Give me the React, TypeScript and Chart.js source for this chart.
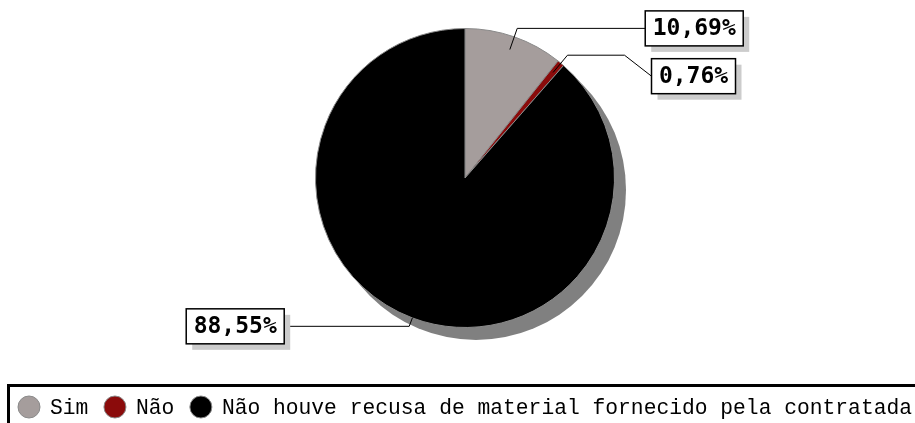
import React, { useEffect, useRef } from "react";
import { Chart, registerables } from "chart.js";

Chart.register(...registerables);

const categories: string[] = ["Sim", "Não", "Não houve recusa de material fornecido pela contratada"];
const values: number[] = [10.69, 0.76, 88.55];
const valueLabels: string[] = ["10,69%", "0,76%", "88,55%"];
const colors: string[] = ["#a59d9c", "#8b0b0b", "#000000"];

// leader-line styling per slice: anchor radius ratio, elbow ratio, horizontal run, extra drop
const leaderAnchor: number[] = [0.91, 0.92, 1.0];
const leaderElbow: number[] = [1.06, 1.07, 1.06];
const leaderRun: number[] = [128, 57, -125];
const leaderDrop: number[] = [0, 21, 0];

const LABEL_FONT = 'bold 23px "DejaVu Sans Mono", monospace';
const LEGEND_FONT = '21.3px "Liberation Mono", "Courier New", monospace';

const shadowPlugin = {
  id: "pieShadow",
  beforeDatasetsDraw(chart: any) {
    const meta = chart.getDatasetMeta(0);
    const arc = meta.data[0];
    if (!arc) return;
    const { x, y, outerRadius } = arc.getProps(["x", "y", "outerRadius"], true);
    const ctx = chart.ctx;
    ctx.save();
    ctx.fillStyle = "#808080";
    ctx.beginPath();
    ctx.arc(x + 11, y + 12, outerRadius + 0.5, 0, Math.PI * 2);
    ctx.fill();
    ctx.restore();
  },
};

const labelPlugin = {
  id: "pieLabels",
  afterDatasetsDraw(chart: any) {
    const meta = chart.getDatasetMeta(0);
    const ctx = chart.ctx;
    ctx.save();
    meta.data.forEach((arc: any, i: number) => {
      const { x, y, startAngle, endAngle, outerRadius } = arc.getProps(
        ["x", "y", "startAngle", "endAngle", "outerRadius"],
        true
      );
      const mid = (startAngle + endAngle) / 2;
      const ax = x + Math.cos(mid) * outerRadius * leaderAnchor[i];
      const ay = y + Math.sin(mid) * outerRadius * leaderAnchor[i];
      const ex = x + Math.cos(mid) * outerRadius * leaderElbow[i];
      const ey = y + Math.sin(mid) * outerRadius * leaderElbow[i];
      const hx = ex + leaderRun[i];
      const hy = ey;
      const right = leaderRun[i] >= 0;
      const bx = hx + (leaderDrop[i] ? (right ? 27 : -27) : 0);
      const by = hy + leaderDrop[i];

      ctx.strokeStyle = "#000";
      ctx.lineWidth = 1;
      ctx.beginPath();
      ctx.moveTo(ax, ay);
      ctx.lineTo(ex, ey);
      ctx.lineTo(hx, hy);
      ctx.lineTo(bx, by);
      ctx.stroke();

      ctx.font = LABEL_FONT;
      const tw = ctx.measureText(valueLabels[i]).width;
      const w = Math.round(tw + 15);
      const h = 35;
      const left = right ? bx : bx - w;
      const top = by - h / 2;
      ctx.fillStyle = "#cccccc";
      ctx.fillRect(left + 6, top + 6, w, h);
      ctx.fillStyle = "#ffffff";
      ctx.fillRect(left, top, w, h);
      ctx.lineWidth = 1.5;
      ctx.strokeStyle = "#000";
      ctx.strokeRect(left, top, w, h);
      ctx.fillStyle = "#000";
      ctx.textAlign = "center";
      ctx.textBaseline = "middle";
      ctx.fillText(valueLabels[i], left + w / 2, top + h / 2 + 1);
    });
    ctx.restore();
  },
};

const legendPlugin = {
  id: "customLegend",
  afterDraw(chart: any) {
    const ctx = chart.ctx;
    ctx.save();
    // legend frame (extends past the canvas on right/bottom)
    ctx.strokeStyle = "#000";
    ctx.lineWidth = 3;
    ctx.strokeRect(8.5, 385.5, 960, 80);

    ctx.font = LEGEND_FONT;
    ctx.textAlign = "left";
    ctx.textBaseline = "middle";
    const cy = 407;
    let cx = 29;
    categories.forEach((cat, i) => {
      ctx.beginPath();
      ctx.arc(cx, cy, 11, 0, Math.PI * 2);
      ctx.fillStyle = colors[i];
      ctx.fill();
      ctx.lineWidth = 1;
      ctx.strokeStyle = "#8a8a8a";
      ctx.stroke();
      const tx = cx + 21;
      ctx.fillStyle = "#000";
      ctx.fillText(cat, tx, cy + 1);
      const tw = ctx.measureText(cat).width;
      cx = tx + tw + 15.6 + 11;
    });
    ctx.restore();
  },
};

export default function App() {
  const canvasRef = useRef<HTMLCanvasElement | null>(null);

  useEffect(() => {
    const canvas = canvasRef.current;
    if (!canvas) return;
    const chart = new Chart(canvas, {
      type: "pie",
      data: {
        labels: categories,
        datasets: [
          {
            data: values,
            backgroundColor: colors,
            borderColor: "#8a8a8a",
            borderWidth: 1,
          },
        ],
      },
      options: {
        animation: false,
        responsive: false,
        maintainAspectRatio: false,
        devicePixelRatio: 1,
        layout: { padding: { top: 28, bottom: 95, left: 315, right: 300 } },
        plugins: {
          legend: { display: false },
          tooltip: { enabled: false },
        },
      },
      plugins: [shadowPlugin, labelPlugin, legendPlugin],
    } as any);
    return () => chart.destroy();
  }, []);

  return (
    <div style={{ position: "fixed", left: 0, top: 0, width: 915, height: 423, background: "#fff" }}>
      <canvas ref={canvasRef} width={915} height={423} style={{ display: "block" }} />
    </div>
  );
}
